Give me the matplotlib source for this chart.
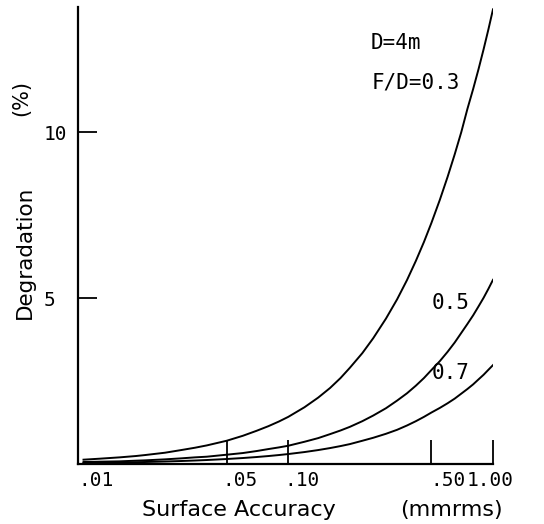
import numpy as np
import matplotlib
matplotlib.use("Agg")
import matplotlib.pyplot as plt

# Surface accuracy (mm rms) and degradation (%)
sigma = [0.01, 0.012, 0.015, 0.018, 0.02, 0.025, 0.03, 0.035, 0.04, 0.05,
         0.06, 0.07, 0.08, 0.09, 0.1, 0.12, 0.14, 0.16, 0.18, 0.2,
         0.23, 0.26, 0.3, 0.34, 0.38, 0.42, 0.46, 0.5, 0.55, 0.6,
         0.65, 0.7, 0.75, 0.8, 0.85, 0.9, 0.95, 1.0]
deg_fd03 = [0.13, 0.16, 0.20, 0.24, 0.27, 0.34, 0.42, 0.49, 0.56, 0.70,
            0.85, 1.00, 1.14, 1.28, 1.42, 1.71, 2.00, 2.29, 2.59, 2.90,
            3.34, 3.79, 4.38, 4.96, 5.54, 6.12, 6.69, 7.26, 7.96, 8.65,
            9.33, 10.0, 10.7, 11.3, 11.9, 12.5, 13.1, 13.7]
deg_fd05 = [0.06, 0.07, 0.08, 0.10, 0.11, 0.14, 0.17, 0.20, 0.22, 0.28,
            0.33, 0.39, 0.45, 0.50, 0.55, 0.67, 0.78, 0.90, 1.01, 1.12,
            1.29, 1.46, 1.68, 1.91, 2.13, 2.36, 2.59, 2.83, 3.10, 3.38,
            3.66, 3.95, 4.22, 4.48, 4.75, 5.01, 5.28, 5.55]
deg_fd07 = [0.03, 0.036, 0.045, 0.054, 0.06, 0.075, 0.09, 0.105, 0.12, 0.15,
            0.18, 0.21, 0.24, 0.27, 0.30, 0.36, 0.42, 0.48, 0.54, 0.60,
            0.70, 0.79, 0.91, 1.03, 1.16, 1.29, 1.42, 1.55, 1.69, 1.83,
            1.97, 2.12, 2.26, 2.40, 2.55, 2.69, 2.84, 2.98]

x_ticks = [0.05, 0.1, 0.5, 1.0]
x_labels = ['.01', '.05', '.10', '.50', '1.00']
x_label_pos = [0.01, 0.05, 0.1, 0.5, 1.0]
x_label_shift = [-4, -3, -3, -1, -19]   # points, plotter-style placement
y_ticks = [5, 10]
y_labels = ['5', '10']

mono = 'DejaVu Sans Mono'
sans = 'DejaVu Sans'

fig = plt.figure(figsize=(5.44, 5.24), dpi=100)
ax = fig.add_axes([78 / 544, 60 / 524, 415 / 544, 457 / 524])

for d in (deg_fd03, deg_fd05, deg_fd07):
    ax.plot(sigma, d, color='black', lw=1.4)

ax.set_xscale('log')
ax.set_xlim(0.0094, 1.0)
ax.set_ylim(0, 13.77)

for s in ('top', 'right'):
    ax.spines[s].set_visible(False)
for s in ('left', 'bottom'):
    ax.spines[s].set_linewidth(1.6)

ax.xaxis.set_minor_locator(matplotlib.ticker.NullLocator())
ax.set_xticks(x_ticks)
ax.set_xticklabels([])
ax.tick_params(axis='x', direction='in', length=17, width=1.3)

ax.set_yticks(y_ticks)
ax.set_yticklabels(y_labels, fontfamily=mono, fontsize=14, ha='left')
ax.tick_params(axis='y', direction='in', length=14, width=1.3, pad=25)

for lab, xv, dx in zip(x_labels, x_label_pos, x_label_shift):
    ax.annotate(lab, xy=(xv, 0), xycoords=('data', 'axes fraction'),
                xytext=(dx, -5), textcoords='offset points',
                ha='left', va='top', fontfamily=mono, fontsize=14)

# axis titles
fig.text(142 / 544, 8 / 524, 'Surface Accuracy', fontfamily=sans,
         fontsize=16, ha='left', va='baseline')
fig.text(400 / 544, 8 / 524, '(mmrms)', fontfamily=sans,
         fontsize=16, ha='left', va='baseline')
fig.text(25 / 544, 272 / 524, 'Degradation', fontfamily=sans,
         fontsize=15.5, rotation=90, ha='center', va='center')
fig.text(21 / 544, 426 / 524, '(%)', fontfamily=sans,
         fontsize=15, rotation=90, ha='center', va='center')

# curve annotations
ax.text(0.706, 0.921, 'D=4m', transform=ax.transAxes, fontfamily=mono,
        fontsize=15, ha='left', va='center')
ax.text(0.708, 0.834, 'F/D=0.3', transform=ax.transAxes, fontfamily=mono,
        fontsize=15, ha='left', va='center')
ax.text(0.853, 0.352, '0.5', transform=ax.transAxes, fontfamily=mono,
        fontsize=15, ha='left', va='center')
ax.text(0.853, 0.199, '0.7', transform=ax.transAxes, fontfamily=mono,
        fontsize=15, ha='left', va='center')

fig.savefig('out.png', dpi=100)
